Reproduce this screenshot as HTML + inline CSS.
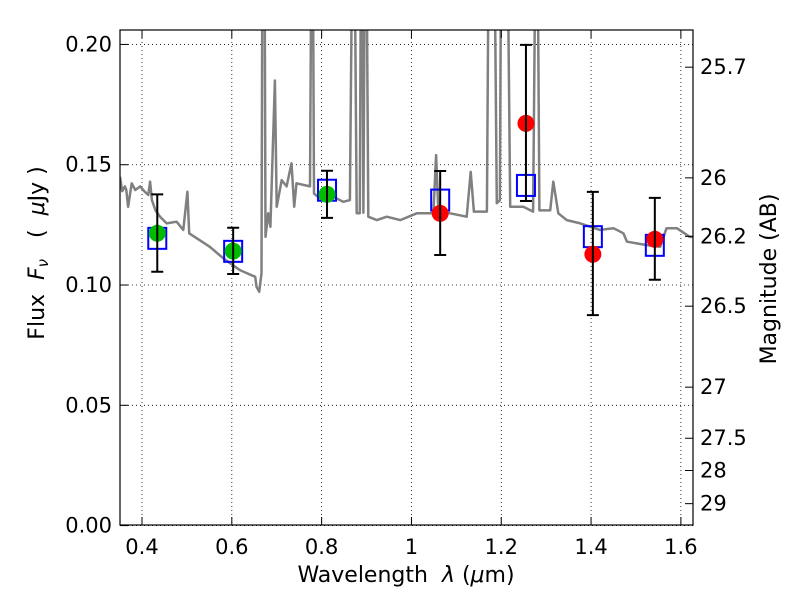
<!DOCTYPE html>
<html><head><meta charset="utf-8"><style>
html,body{margin:0;padding:0;background:#fff;}
svg text{font-family:"DejaVu Sans","Liberation Sans",sans-serif;white-space:pre;}
</style></head><body>
<svg id="chart" width="800" height="600" xmlns="http://www.w3.org/2000/svg">
<defs><clipPath id="pc"><rect x="120" y="30" width="573" height="495"/></clipPath></defs>
<g id="grid"></g>
<g id="spec" clip-path="url(#pc)"></g>
<g id="marks"></g>
<rect x="120" y="30" width="573" height="495" fill="none" stroke="#000" stroke-width="1.2"/>
<g id="axes"></g>
<text x="406" y="582" font-size="22" text-anchor="middle" xml:space="preserve">Wavelength  <tspan font-style="italic">λ</tspan> (<tspan font-style="italic">μ</tspan>m)</text>
<text transform="translate(44,253) rotate(-90)" font-size="22" text-anchor="middle" xml:space="preserve">Flux  <tspan font-style="italic">F<tspan font-size="15" dy="4">ν</tspan></tspan><tspan dy="-4">   (  </tspan><tspan font-style="italic">μ</tspan>Jy )</text>
<text transform="translate(776,279) rotate(-90)" font-size="22" text-anchor="middle">Magnitude (AB)</text>
</svg>
<script>
const specLam=[0.351,0.356,0.362,0.365,0.369,0.377,0.385,0.396,0.405,0.414,0.418,0.422,0.430,0.440,0.455,0.477,0.492,0.501,0.505,0.522,0.551,0.581,0.618,0.652,0.655,0.661,0.666,0.669,0.672,0.675,0.681,0.686,0.696,0.700,0.711,0.722,0.733,0.739,0.744,0.774,0.779,0.783,0.796,0.826,0.848,0.863,0.871,0.878,0.885,0.889,0.893,0.898,0.904,0.923,0.945,0.975,1.012,1.049,1.055,1.060,1.086,1.123,1.132,1.139,1.168,1.174,1.182,1.190,1.197,1.201,1.211,1.220,1.249,1.271,1.279,1.285,1.309,1.316,1.327,1.346,1.376,1.420,1.450,1.472,1.480,1.524,1.554,1.568,1.591,1.620,1.627];
const specFlux=[0.145,0.139,0.141,0.1395,0.1325,0.1423,0.1395,0.141,0.139,0.1374,0.143,0.1353,0.131,0.1284,0.1256,0.1263,0.1229,0.1388,0.1215,0.1194,0.1159,0.1111,0.1062,0.1034,0.0993,0.0972,0.1049,0.3,0.3,0.120,0.1298,0.1242,0.185,0.1325,0.1436,0.141,0.1506,0.1325,0.1423,0.141,0.3,0.138,0.136,0.1367,0.1346,0.1353,0.3,0.1298,0.1298,0.3,0.13,0.3,0.1284,0.127,0.1284,0.127,0.1298,0.1298,0.154,0.1305,0.1298,0.1284,0.147,0.1305,0.1305,0.3,0.3,0.134,0.1353,0.3,0.3,0.1325,0.1325,0.1305,0.3,0.131,0.131,0.143,0.1298,0.127,0.1256,0.1229,0.1236,0.1215,0.118,0.1166,0.1159,0.1236,0.1236,0.12,0.12];
const ptLam=[0.434,0.603,0.812,1.064,1.255,1.404,1.542];
const ptFlux=[0.1215,0.1141,0.1377,0.1298,0.1672,0.1128,0.119];
const errHi=[0.1377,0.1238,0.1475,0.1474,0.1998,0.1387,0.1362];
const errLo=[0.1055,0.1046,0.1279,0.1125,0.1349,0.0875,0.1022];
const modelFlux=[0.1194,0.114,0.1394,0.1353,0.1414,0.1201,0.1165];
const ptColor=['#00bb00','#00bb00','#00bb00','#ff0000','#ff0000','#ff0000','#ff0000'];
const xTicks=[0.4,0.6,0.8,1.0,1.2,1.4,1.6];
const xTickLabels=['0.4','0.6','0.8','1','1.2','1.4','1.6'];
const yTicks=[0,0.05,0.10,0.15,0.20];
const yTickLabels=['0.00','0.05','0.10','0.15','0.20'];
const magTicks=[25.7,26,26.2,26.5,27,27.5,28,29];
const magTickLabels=['25.7','26','26.2','26.5','27','27.5','28','29'];

const X0=0.351,X1=1.627,PX0=120,PX1=693;
const Y0=0,Y1=0.206,PY0=525.6,PY1=30;
const sx=v=>PX0+(v-X0)/(X1-X0)*(PX1-PX0);
const sy=v=>PY0+(v-Y0)/(Y1-Y0)*(PY1-PY0);
const magToFlux=m=>Math.pow(10,(23.9-m)/2.5);
const NS='http://www.w3.org/2000/svg';
function mk(tag,attrs,parent){const e=document.createElementNS(NS,tag);for(const k in attrs)e.setAttribute(k,attrs[k]);parent.appendChild(e);return e;}
const grid=document.getElementById('grid'),axes=document.getElementById('axes'),spec=document.getElementById('spec'),marks=document.getElementById('marks');

xTicks.forEach((t,i)=>{
  const x=sx(t);
  const g=mk('line',{x1:x,x2:x,y1:30,y2:525,stroke:'#000','stroke-width':0.8,'stroke-dasharray':'1,3'},grid);
  
  
  const tk=mk('path',{d:`M${x},525v-8M${x},30v8`,stroke:'#000','stroke-width':1},axes);
  
  
  const tx=mk('text',{x:x,y:554,'font-size':21,'text-anchor':'middle'},axes);
  tx.textContent=xTickLabels[i];
  
  
});
yTicks.forEach((t,i)=>{
  const y=sy(t);
  const g=mk('line',{x1:120,x2:693,y1:y,y2:y,stroke:'#000','stroke-width':0.8,'stroke-dasharray':'1,3'},grid);
  
  
  const tk=mk('path',{d:`M120,${y}h8`,stroke:'#000','stroke-width':1},axes);
  
  
  const tx=mk('text',{x:112,y:y+7,'font-size':21,'text-anchor':'end'},axes);
  tx.textContent=yTickLabels[i];
  
  
});
magTicks.forEach((m,i)=>{
  const y=sy(magToFlux(m));
  const tk=mk('path',{d:`M693,${y}h-8`,stroke:'#000','stroke-width':1},axes);
  
  
  const tx=mk('text',{x:700,y:y+7,'font-size':21},axes);
  tx.textContent=magTickLabels[i];
  
  
});
const pts=specLam.map((l,i)=>sx(l).toFixed(1)+','+sy(specFlux[i]).toFixed(1)).join(' ');
const pl=mk('polyline',{points:pts,fill:'none',stroke:'#808080','stroke-width':2.5,'stroke-linejoin':'round'},spec);



ptLam.forEach((l,i)=>{
  const x=sx(l);
  const sq=mk('rect',{x:x-9,y:sy(modelFlux[i])-10.5,width:18,height:21,fill:'none',stroke:'#0000ff','stroke-width':2},marks);
  
  
  const c=mk('circle',{cx:x,cy:sy(ptFlux[i]),r:8.5,fill:ptColor[i]},marks);
  
  
  const yh=sy(errHi[i]),yl=sy(errLo[i]);
  const eb=mk('path',{d:`M${x},${yh}V${yl}M${x-6},${yh}h12M${x-6},${yl}h12`,stroke:'#000','stroke-width':2,fill:'none'},marks);
  
  
});
</script>
</body></html>
